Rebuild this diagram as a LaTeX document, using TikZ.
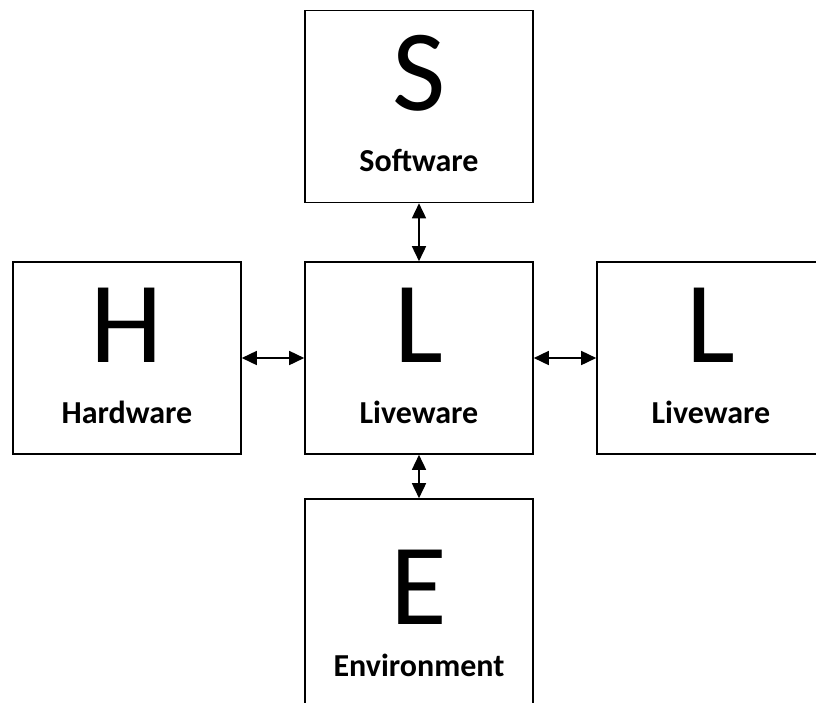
\documentclass[tikz,border=0pt]{standalone}
\usepackage{fontspec}
\setmainfont{Carlito}
\usetikzlibrary{arrows.meta,calc}
\begin{document}
\begin{tikzpicture}[x=1pt,y=-1pt,
  box/.style={draw=black,line width=1.6pt,minimum width=228pt,minimum height=192pt,inner sep=0pt},
  letter/.style={font=\fontsize{116}{120}\selectfont,inner sep=0pt},
  caption/.style={font=\fontsize{32}{36}\selectfont\bfseries,inner sep=0pt},
  link/.style={line width=1.6pt,{Triangle[length=15pt,width=14pt]}-{Triangle[length=15pt,width=14pt]}}]
\useasboundingbox (0,0) rectangle (816,702);
\clip (0,0) rectangle (816,702);
% the five SHELL boxes
\node[box] (sw) at (419,106.5) {};
\node[box] (hw) at (127,358) {};
\node[box] (lc) at (419,358) {};
\node[box] (lr) at (711,358) {};
\node[box,minimum height=240pt] (env) at (419,619) {};
% big initials
\node[letter] (sl) at ($(sw.center)+(0,-33)$) {S};
\node[letter] (hl) at ($(hw.center)+(0,-33)$) {H};
\node[letter] (cl) at ($(lc.center)+(0,-33)$) {L};
\node[letter] (rl) at ($(lr.center)+(0,-33)$) {L};
\node[letter] (el) at (419,587) {E};
% captions
\node[caption] (st) at ($(sw.center)+(0,54)$) {Software};
\node[caption] (ht) at ($(hw.center)+(0,54)$) {Hardware};
\node[caption] (ct) at ($(lc.center)+(0,54)$) {Liveware};
\node[caption] (rt) at ($(lr.center)+(0,54)$) {Liveware};
\node[caption] (et) at (419,665) {Environment};
% interfaces
\draw[link] (sw.south) -- (lc.north);
\draw[link] (hw.east) -- (lc.west);
\draw[link] (lc.east) -- (lr.west);
\draw[link] (lc.south) -- (env.north);
\end{tikzpicture}
\end{document}
